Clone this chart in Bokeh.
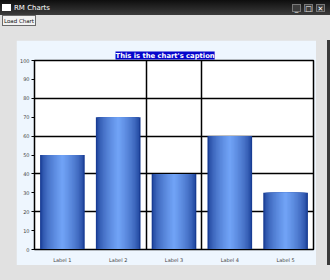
import numpy as np
from bokeh.plotting import figure
from bokeh.models import Range1d, FixedTicker, Div, Spacer, Title
from bokeh.layouts import column, row
from bokeh.embed import file_html
from bokeh.resources import INLINE

# ---- data ----
categories = ["Label 1", "Label 2", "Label 3", "Label 4", "Label 5"]
values = [50, 70, 40, 60, 30]
y_ticks = [0, 10, 20, 30, 40, 50, 60, 70, 80, 90, 100]
y_grid = [20, 40, 60, 80]
x_grid = [2, 3]
caption = "This is the chart's caption"
window_title = "RM Charts"
button_text = "Load Chart"

FONT = "DejaVu Sans"
GREY = "#e1e1e1"

x = np.arange(len(categories)) + 0.5
src = dict(x=x, top=values)

p = figure(width=300, height=225, output_backend="svg", toolbar_location=None,
           x_range=Range1d(0, len(categories)), y_range=Range1d(0, 100),
           min_border_left=15, min_border_right=3, min_border_top=20, min_border_bottom=11)
p.background_fill_color = "white"
p.border_fill_color = "#eef6fe"
p.outline_line_color = "black"
p.outline_line_width = 1.5

# caption, then a thin empty title as a gap between caption and frame
p.add_layout(Title(text=caption, align="left", offset=81, text_font=FONT,
                   text_font_size="6.8px", text_font_style="bold", text_color="white",
                   background_fill_color="#0606cc", standoff=2), "above")
p.add_layout(Title(text=" ", text_font_size="5px", standoff=0, text_color=None), "above")

# gradient bars as layered vbars
dark = np.array([0x18, 0x3c, 0x94])
light = np.array([0x70, 0xa2, 0xf5])
N = 16
for i in range(N):
    f = i / (N - 1)
    w = 0.8 * (1 - f * 0.94)
    t = f ** 0.6
    c = dark + (light - dark) * t
    col = "#%02x%02x%02x" % tuple(int(round(v)) for v in c)
    p.vbar(x="x", top="top", width=w, source=src, fill_color=col, line_color=None)

# axes
ya = p.yaxis[0]
ya.ticker = FixedTicker(ticks=y_ticks)
ya.axis_line_color = "black"
ya.major_tick_line_color = "black"
ya.major_tick_out = 3
ya.major_tick_in = 0
ya.minor_tick_line_color = None
ya.major_label_text_font = FONT
ya.major_label_text_font_size = "5px"
ya.major_label_text_color = "#444444"
ya.major_label_standoff = 2

xa = p.xaxis[0]
xa.ticker = FixedTicker(ticks=list(x))
xa.major_label_overrides = {float(v): lab for v, lab in zip(x, categories)}
xa.axis_line_color = "black"
xa.major_tick_line_color = None
xa.minor_tick_line_color = None
xa.major_label_text_font = FONT
xa.major_label_text_font_size = "5px"
xa.major_label_text_color = "#444444"
xa.major_label_standoff = 1

p.ygrid.ticker = FixedTicker(ticks=y_grid)
p.ygrid.grid_line_color = "black"
p.ygrid.grid_line_width = 1.5
p.xgrid.ticker = FixedTicker(ticks=x_grid)
p.xgrid.grid_line_color = "black"
p.xgrid.grid_line_width = 1.5

# window chrome
btn_style = ("position:absolute;top:4px;width:9px;height:8px;background:#3c3c3c;"
             "border:1px solid #777;color:#fff;font-size:7px;line-height:8px;text-align:center;")
title_html = (
    f'<div style="position:relative;width:330px;height:15px;'
    f'background:linear-gradient(#0e0e0e,#3c3c3c);font-family:\'{FONT}\';">'
    f'<div style="position:absolute;left:2px;top:4px;width:9px;height:7px;background:#fff;"></div>'
    f'<span style="position:absolute;left:14px;top:3px;font-size:7px;color:#fff;">{window_title}</span>'
    f'<div style="{btn_style}left:292px;">_</div>'
    f'<div style="{btn_style}left:304px;">&#9633;</div>'
    f'<div style="{btn_style}left:316px;">&#10005;</div>'
    f'</div>'
)
titlebar = Div(text=title_html, width=330, height=15, margin=0)

bar_html = (
    f'<div style="position:relative;width:330px;height:25px;background:{GREY};font-family:\'{FONT}\';">'
    f'<div style="position:absolute;left:2px;top:0px;width:34px;height:11px;background:#f2f2f2;'
    f'border:1px solid #6a6a6a;font-size:5.5px;line-height:11px;text-align:center;color:#111;">{button_text}</div>'
    f'</div>'
)
buttonbar = Div(text=bar_html, width=330, height=25, margin=0)

left_sp = Spacer(width=16, height=225, margin=0, styles={"background-color": GREY})
right_sp = Spacer(width=11, height=225, margin=0, styles={"background-color": GREY})
border_sp = Spacer(width=3, height=225, margin=0, styles={"background-color": "#3a3a3a"})
mid = row(left_sp, p, right_sp, border_sp, spacing=0, margin=0)
bottom = Spacer(width=330, height=15, margin=0, styles={"background-color": GREY})

root = column(titlebar, buttonbar, mid, bottom, spacing=0, margin=0,
              styles={"background-color": GREY})

open("out.html", "w").write(file_html(root, INLINE))
